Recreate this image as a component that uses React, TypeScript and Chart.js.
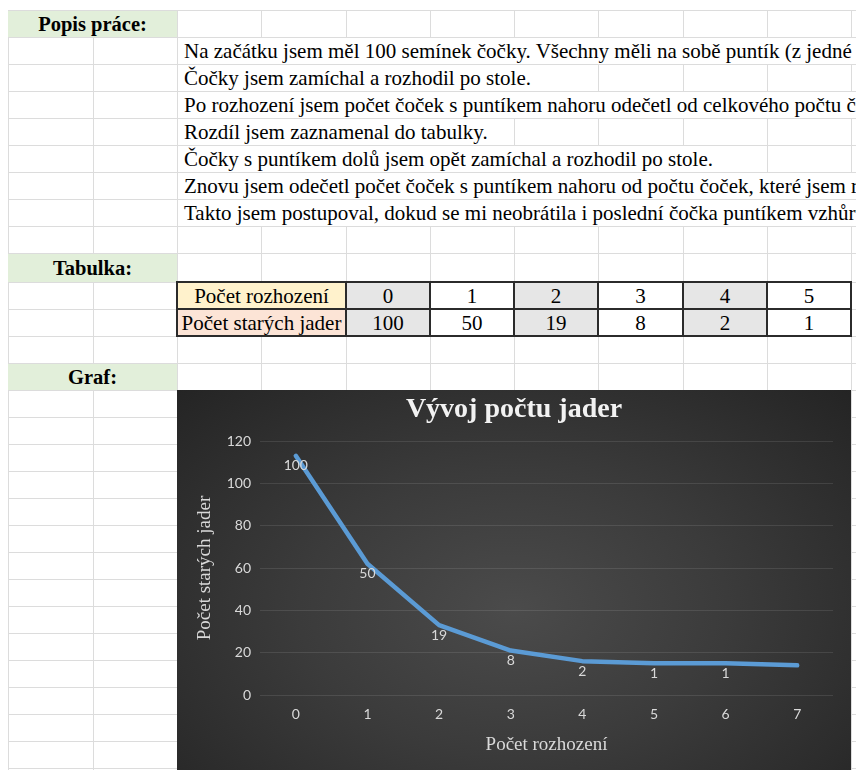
import React, { useEffect, useRef } from "react";
import { Chart, registerables } from "chart.js";

Chart.register(...registerables);

// ---------------- data ----------------
const descriptionHeading = "Popis práce:";
const descriptionLines = [
  "Na začátku jsem měl 100 semínek čočky. Všechny měli na sobě puntík (z jedné strany).",
  "Čočky jsem zamíchal a rozhodil po stole.",
  "Po rozhození jsem počet čoček s puntíkem nahoru odečetl od celkového počtu čoček.",
  "Rozdíl jsem zaznamenal do tabulky.",
  "Čočky s puntíkem dolů jsem opět zamíchal a rozhodil po stole.",
  "Znovu jsem odečetl počet čoček s puntíkem nahoru od počtu čoček, které jsem rozhodil.",
  "Takto jsem postupoval, dokud se mi neobrátila i poslední čočka puntíkem vzhůru.",
];
const tableHeading = "Tabulka:";
const graphHeading = "Graf:";
const rowHeaderThrows = "Počet rozhození";
const rowHeaderNuclei = "Počet starých jader";
const tableThrows = [0, 1, 2, 3, 4, 5];
const tableNuclei = [100, 50, 19, 8, 2, 1];

const chartTitle = "Vývoj počtu jader";
const xAxisTitle = "Počet rozhození";
const yAxisTitle = "Počet starých jader";
const chartCategories = ["0", "1", "2", "3", "4", "5", "6", "7"];
const plottedValues = [113, 62, 33, 21, 16, 15, 15, 14];
const pointLabels = ["100", "50", "19", "8", "2", "1", "1", ""];
const yMin = 0;
const yMax = 120;
const yStep = 20;

// ---------------- layout ----------------
const COLS = [8, 93, 177, 261, 346, 430, 514, 598, 683, 767, 851];
const ROWS = [10, 37, 64, 91, 118, 145, 172, 199, 226, 253, 282, 309, 336, 363, 390,
  417, 444, 471, 498, 525, 552, 579, 606, 633, 660, 687, 714, 741, 768];
const GRID = "#dcdcdc";
const SERIF = "'Liberation Serif', 'Times New Roman', serif";
const SANS = "Lato, 'Liberation Sans', sans-serif";
const TXT = "#d9d9d9";

function NucleiChart() {
  const ref = useRef<HTMLCanvasElement>(null);
  useEffect(() => {
    const labelPlugin = {
      id: "pointLabels",
      afterDatasetsDraw(chart: any) {
        const ctx = chart.ctx;
        const meta = chart.getDatasetMeta(0);
        ctx.save();
        ctx.font = `14px ${SANS}`;
        ctx.fillStyle = TXT;
        ctx.textAlign = "center";
        ctx.textBaseline = "middle";
        meta.data.forEach((pt: any, i: number) => {
          const t = pointLabels[i];
          if (t) ctx.fillText(t, pt.x, pt.y + 10);
        });
        ctx.restore();
      },
    };
    const titlePlugin = {
      id: "centerTitle",
      afterDraw(chart: any) {
        const ctx = chart.ctx;
        ctx.save();
        ctx.font = `bold 28px ${SERIF}`;
        ctx.fillStyle = "#f2f2f2";
        ctx.textAlign = "center";
        ctx.textBaseline = "middle";
        ctx.fillText(chartTitle, chart.width / 2, 20);
        ctx.restore();
      },
    };
    const chart = new Chart(ref.current as HTMLCanvasElement, {
      type: "line",
      data: {
        labels: chartCategories,
        datasets: [
          {
            data: plottedValues,
            borderColor: "#5b9bd5",
            borderWidth: 4.5,
            pointRadius: 0,
            tension: 0,
            borderCapStyle: "round",
            borderJoinStyle: "round",
            fill: false,
          },
        ],
      },
      options: {
        animation: false,
        responsive: false,
        layout: { padding: { left: 0, right: 18, top: 51, bottom: 0 } },
        plugins: {
          legend: { display: false },
          tooltip: { enabled: false },
          title: { display: false },
        },
        scales: {
          x: {
            offset: true,
            grid: { display: false, drawTicks: false },
            border: { display: false },
            ticks: { color: TXT, font: { family: SANS, size: 14 }, padding: 11, maxRotation: 0 },
            title: {
              display: true,
              text: xAxisTitle,
              color: TXT,
              font: { family: SERIF, size: 19, lineHeight: 1.2 },
              padding: { top: 0, bottom: 14 },
            },
            afterFit: (s: any) => {
              s.height = 75;
            },
          },
          y: {
            min: yMin,
            max: yMax,
            ticks: { stepSize: yStep, color: TXT, font: { family: SANS, size: 14 }, padding: 9 },
            grid: { color: "rgba(255,255,255,0.1)", lineWidth: 1, drawTicks: false },
            border: { display: false },
            title: {
              display: true,
              text: yAxisTitle,
              color: TXT,
              font: { family: SERIF, size: 19, lineHeight: 1.2 },
              padding: { top: 17, bottom: 0 },
            },
            afterFit: (s: any) => {
              s.width = 83;
            },
          },
        },
      } as any,
      plugins: [labelPlugin, titlePlugin],
    });
    return () => chart.destroy();
  }, []);
  return (
    <div
      style={{
        position: "absolute",
        left: 177,
        top: 390,
        width: 674,
        height: 380,
        background: "radial-gradient(ellipse farthest-corner at 50% 58%, #4b4b4b 0%, #3b3b3b 45%, #242424 100%)",
      }}
    >
      <canvas ref={ref} width={674} height={380} style={{ display: "block" }} />
    </div>
  );
}

export default function App() {
  const els: React.ReactNode[] = [];
  ROWS.forEach((y) =>
    els.push(<div key={"h" + y} style={{ position: "absolute", left: 8, top: y, width: 848, height: 1, background: GRID }} />)
  );
  COLS.forEach((x) =>
    els.push(<div key={"v" + x} style={{ position: "absolute", left: x, top: 10, width: 1, height: 760, background: GRID }} />)
  );

  const heading = (text: string, r: number) => (
    <div
      key={"g" + r}
      style={{
        position: "absolute",
        left: 8,
        top: ROWS[r] + 1,
        width: 169,
        height: ROWS[r + 1] - ROWS[r] - 1,
        lineHeight: ROWS[r + 1] - ROWS[r] - 1 + "px",
        background: "#e2efda",
        textAlign: "center",
        fontWeight: "bold",
        fontSize: 20.5,
      }}
    >
      {text}
    </div>
  );
  els.push(heading(descriptionHeading, 0));
  els.push(heading(tableHeading, 9));
  els.push(heading(graphHeading, 13));

  descriptionLines.forEach((t, i) => {
    const r = 1 + i;
    els.push(
      <div
        key={"d" + i}
        style={{
          position: "absolute",
          left: 178,
          top: ROWS[r] + 1,
          height: ROWS[r + 1] - ROWS[r] - 1,
          lineHeight: ROWS[r + 1] - ROWS[r] - 1 + "px",
          background: "#fff",
          whiteSpace: "nowrap",
          paddingLeft: 6,
          paddingRight: 3,
          fontSize: 21,
        }}
      >
        {t}
      </div>
    );
  });

  // table
  const tTop = ROWS[10];
  const tMid = ROWS[11];
  const tBot = ROWS[12];
  const cell = (key: string, x0: number, x1: number, y0: number, y1: number, bg: string, text: string) => (
    <div
      key={key}
      style={{
        position: "absolute",
        left: x0,
        top: y0,
        width: x1 - x0,
        height: y1 - y0,
        lineHeight: y1 - y0 + 1 + "px",
        background: bg,
        textAlign: "center",
        fontSize: 21,
        whiteSpace: "nowrap",
      }}
    >
      {text}
    </div>
  );
  els.push(cell("th1", COLS[2], COLS[4], tTop, tMid, "#fff2cc", rowHeaderThrows));
  els.push(cell("th2", COLS[2], COLS[4], tMid, tBot, "#fce4d6", rowHeaderNuclei));
  tableThrows.forEach((v, i) => {
    const bg = i % 2 === 0 ? "#e6e6e6" : "#ffffff";
    els.push(cell("a" + i, COLS[4 + i], COLS[5 + i], tTop, tMid, bg, String(v)));
    els.push(cell("b" + i, COLS[4 + i], COLS[5 + i], tMid, tBot, bg, String(tableNuclei[i])));
  });
  const B = "#2b2b2b";
  [tTop, tMid, tBot].forEach((y) =>
    els.push(<div key={"tb" + y} style={{ position: "absolute", left: COLS[2] - 1, top: y - 1, width: COLS[10] - COLS[2] + 2, height: 2, background: B }} />)
  );
  COLS.slice(2).forEach((x, i) => {
    if (i === 1) return; // merged header cell: no border at this column
    els.push(<div key={"tv" + x} style={{ position: "absolute", left: x - 1, top: tTop - 1, width: 2, height: tBot - tTop + 2, background: B }} />);
  });

  return (
    <div
      style={{
        position: "fixed",
        left: 0,
        top: 0,
        width: 856,
        height: 770,
        overflow: "hidden",
        background: "#fff",
        fontFamily: SERIF,
        color: "#000",
      }}
    >
      {els}
      <NucleiChart />
    </div>
  );
}
